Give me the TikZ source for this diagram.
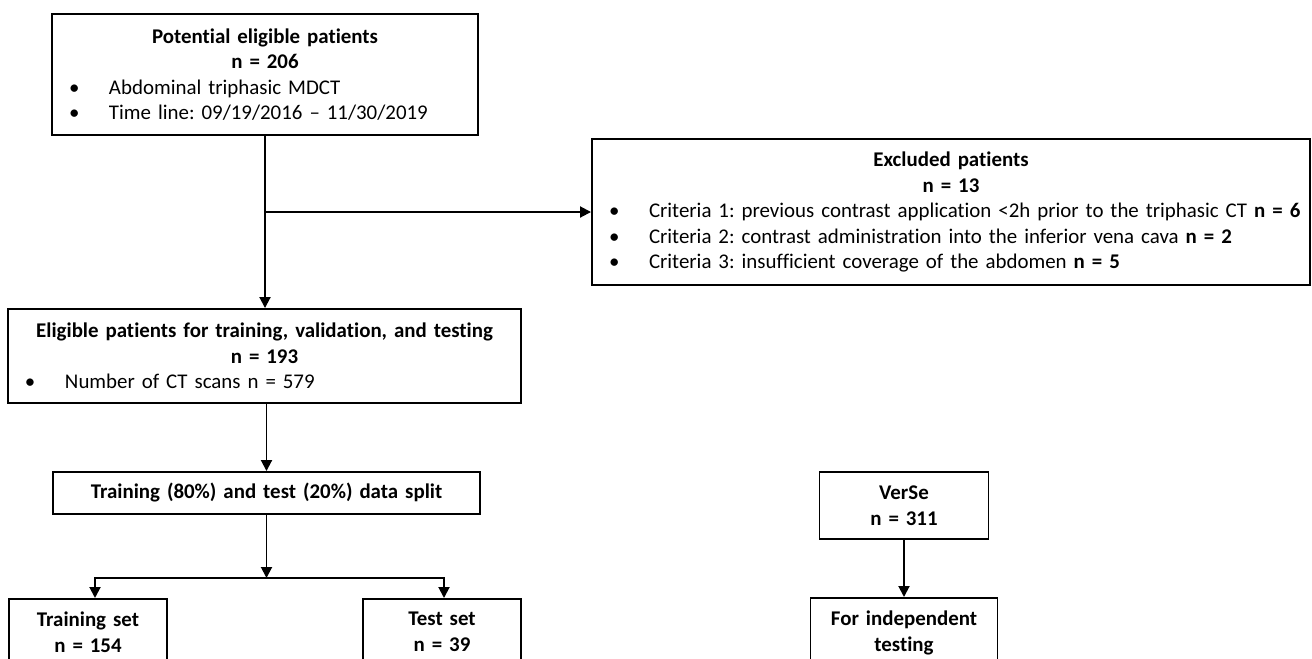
\documentclass[tikz,border=0pt]{standalone}
\usepackage{fontspec}
\setmainfont{Carlito}[Ligatures={NoCommon}]
\usetikzlibrary{arrows.meta}
\newlength\upx
\setlength\upx{0.02cm}
\newcommand\blt[1]{\makebox[\hsize][l]{\hspace*{17\upx}\makebox[40\upx][l]{\textbullet}#1}}
\frenchspacing

\begin{document}
\begin{tikzpicture}[x=\upx, y=-\upx,
  every node/.style={font=\fontsize{11.9}{14.5}\selectfont},
  box/.style 2 args={draw, line width=1.1pt, inner sep=0pt, align=center,
    minimum width=#1\upx, text width=#1\upx, minimum height=#2\upx},
  obox/.style={draw, line width=1.1pt, inner xsep=0pt, inner ysep=13\upx, align=center,
    text width=#1\upx, anchor=north},
  flow/.style={line width=1.1pt, -{Triangle[length=0.22cm, width=0.22cm]}}]
\useasboundingbox (0,0) rectangle (1312,659);
\clip (0,0) rectangle (1312,659);

% patient flow
\node[box={426}{121}] (pot) at (265,74.5) {\textbf{Potential eligible patients}\\ \textbf{n = 206}\\
  \blt{Abdominal triphasic MDCT}\\
  \blt{Time line: 09/19/2016 – 11/30/2019}};
\node[box={718}{146}] (excl) at (951,212) {\textbf{Excluded patients}\\ \textbf{n = 13}\\
  \blt{Criteria 1: previous contrast application <2h prior to the triphasic CT \textbf{n = 6}}\\
  \blt{Criteria 2: contrast administration into the inferior vena cava \textbf{n = 2}}\\
  \blt{Criteria 3: insufficient coverage of the abdomen \textbf{n = 5}}};
\node[box={513}{94}] (elig) at (264.5,356) {\textbf{Eligible patients for training, validation, and testing}\\ \textbf{n = 193}\\
  \blt{Number of CT scans n = 579}};
\node[box={427}{42}] (split) at (266.5,493) {\textbf{Training (80\%) and test (20\%) data split}};
\node[obox=158] (train) at (88,598) {\textbf{Training set}\\ \textbf{n = 154}\rule[-50\upx]{0pt}{0pt}};
\node[obox=158] (test) at (442,598) {\textbf{Test set}\\ \textbf{n = 39}\rule[-50\upx]{0pt}{0pt}};

% external data
\node[box={169}{67}] (verse) at (904,505.5) {\textbf{VerSe}\\ \textbf{n = 311}};
\node[obox=187] (indep) at (904,597) {\textbf{For independent}\\ \textbf{testing}\rule[-50\upx]{0pt}{0pt}};

\coordinate (j1) at (265,212);
\coordinate (j2) at (266.5,578);
\coordinate (tl) at (95,598);
\coordinate (tr) at (444,598);

\draw[flow] (pot.south) -- (pot.south |- elig.north);
\draw[flow] (j1) -- (j1 -| excl.west);
\draw[flow] (split.north |- elig.south) -- (split.north);
\draw[flow] (split.south) -- (j2);
\draw[flow] (j2) -| (tl);
\draw[flow] (j2) -| (tr);
\draw[flow] (verse.south) -- (indep.north);
\end{tikzpicture}
\end{document}
